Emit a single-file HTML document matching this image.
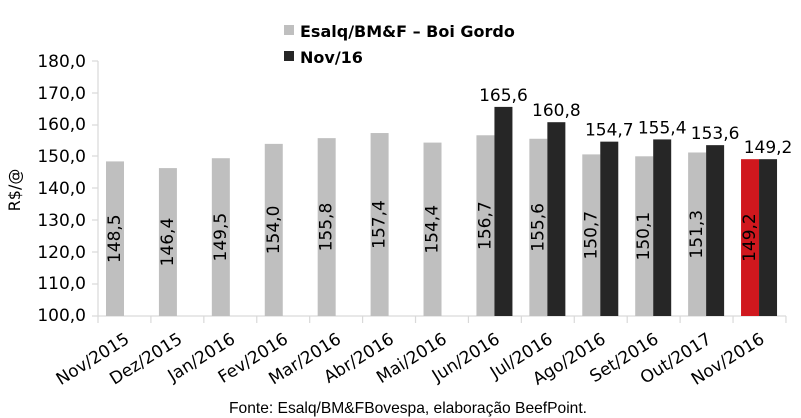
<!DOCTYPE html>
<html><head><meta charset="utf-8"><style>
body{margin:0;background:#fff;}
svg{display:block;font-family:"DejaVu Sans","Liberation Sans",sans-serif;}
</style></head><body>
<svg width="801" height="418" viewBox="0 0 801 418" xmlns="http://www.w3.org/2000/svg">
<rect width="801" height="418" fill="#fff"/>
<rect x="284" y="25" width="10" height="10" fill="#bfbfbf"/>
<text x="300" y="37" font-size="16" font-weight="bold" fill="#000">Esalq/BM&amp;F – Boi Gordo</text>
<rect x="284" y="51" width="10" height="10" fill="#262626"/>
<text x="300" y="63" font-size="16" font-weight="bold" fill="#000">Nov/16</text>
<g font-size="17" fill="#000" text-anchor="end">
<text x="86" y="67">180,0</text>
<text x="86" y="99">170,0</text>
<text x="86" y="130">160,0</text>
<text x="86" y="162">150,0</text>
<text x="86" y="194">140,0</text>
<text x="86" y="226">130,0</text>
<text x="86" y="258">120,0</text>
<text x="86" y="289">110,0</text>
<text x="86" y="321">100,0</text>
</g>
<g stroke="#d9d9d9" stroke-width="1.2">
<line x1="98" y1="61" x2="98" y2="316"/>
<line x1="92" y1="61" x2="98" y2="61"/><line x1="92" y1="93" x2="98" y2="93"/>
<line x1="92" y1="125" x2="98" y2="125"/><line x1="92" y1="156" x2="98" y2="156"/>
<line x1="92" y1="188" x2="98" y2="188"/><line x1="92" y1="220" x2="98" y2="220"/>
<line x1="92" y1="252" x2="98" y2="252"/><line x1="92" y1="284" x2="98" y2="284"/>
<line x1="92" y1="316" x2="786" y2="316"/>
</g>
<text transform="translate(20,190) rotate(-90)" font-size="16" text-anchor="middle" fill="#000">R$/@</text>
<g id="bars"></g>
<text x="408" y="413" font-family="Liberation Sans, sans-serif" font-size="15.6" text-anchor="middle" fill="#000">Fonte: Esalq/BM&amp;FBovespa, elaboração BeefPoint.</text>
<script>
var g=document.getElementById('bars'),ns='http://www.w3.org/2000/svg';
var cats=['Nov/2015','Dez/2015','Jan/2016','Fev/2016','Mar/2016','Abr/2016','Mai/2016','Jun/2016','Jul/2016','Ago/2016','Set/2016','Out/2017','Nov/2016'];
var gray=[148.5,146.4,149.5,154.0,155.8,157.4,154.4,156.7,155.6,150.7,150.1,151.3,149.2];
var dark=[null,null,null,null,null,null,null,165.6,160.8,154.7,155.4,153.6,149.2];
function Y(v){return 316-(v-100)*3.1875;}
function el(t,a,txt){var e=document.createElementNS(ns,t);for(var k in a)e.setAttribute(k,a[k]);if(txt)e.textContent=txt;g.appendChild(e);return e;}
function f(v){return v.toFixed(1).replace('.',',');}
var w=52.92;
for(var i=0;i<13;i++){
 var x0=98+i*w;
 el('line',{x1:x0+w,y1:316,x2:x0+w,y2:323,stroke:'#d9d9d9','stroke-width':1.2});
 if(i==0)el('line',{x1:98,y1:316,x2:98,y2:323,stroke:'#d9d9d9','stroke-width':1.2});
 var gy=Y(gray[i]);
 el('rect',{x:x0+8,y:gy,width:18,height:316-gy,fill:i==12?'#d0181e':'#bfbfbf'});
 var cx=x0+17,cy=(gy+316)/2;
 el('text',{x:cx,y:cy,'font-size':17,'text-anchor':'middle','dominant-baseline':'central',fill:'#000',transform:'rotate(-90 '+cx+' '+cy+')'},f(gray[i]));
 if(dark[i]!=null){var dy=Y(dark[i]);
  el('rect',{x:x0+26,y:dy,width:18,height:316-dy,fill:'#262626'});
  el('text',{x:x0+35,y:dy-6,'font-size':17,'text-anchor':'middle',fill:'#000'},f(dark[i]));}
 var lx=x0+w/2+6,ly=342;
 el('text',{x:lx,y:ly,'font-size':17,'text-anchor':'end',fill:'#000',transform:'rotate(-32 '+lx+' '+ly+')'},cats[i]);
}
</script>
</svg>
</body></html>
